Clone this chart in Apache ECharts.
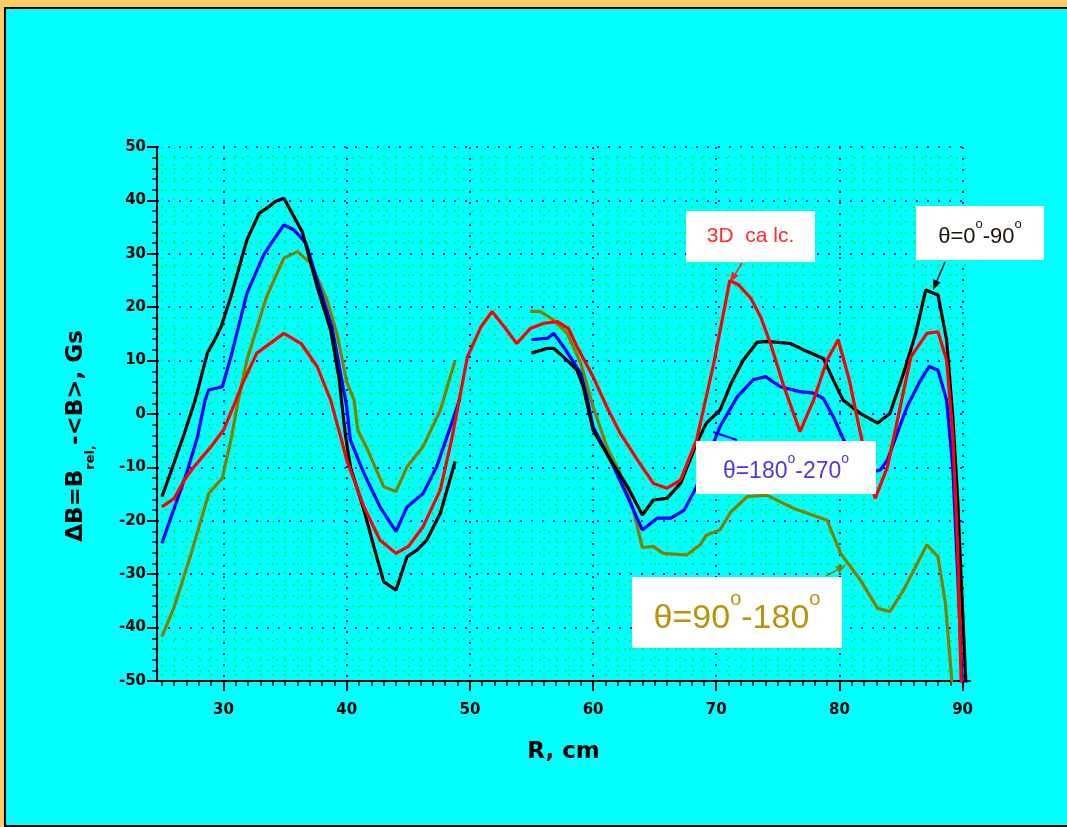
<!DOCTYPE html>
<html>
<head>
<meta charset="utf-8">
<script src="https://cdn.jsdelivr.net/npm/echarts@6/dist/echarts.min.js"></script>
<style>
html,body{margin:0;padding:0;background:#FFCC66;width:1067px;height:827px;overflow:hidden;}
#frame{position:absolute;left:4px;top:7px;width:1065px;height:816px;background:#00FFFF;border-left:2px solid #000;border-top:2px solid #000;border-bottom:2px solid #000;}
#chart{position:absolute;left:0;top:0;width:1067px;height:827px;}
</style>
</head>
<body>
<div id="frame"></div>
<div id="chart"></div>
<script>
// ---- data ----
const xLabelTicks = [30, 40, 50, 60, 70, 80, 90];
const xMinorTicks = [25,26,27,28,29,30,31,32,33,34,35,36,37,38,39,40,41,42,43,44,45,46,47,48,49,50,51,52,53,54,55,56,57,58,59,60,61,62,63,64,65,66,67,68,69,70,71,72,73,74,75,76,77,78,79,80,81,82,83,84,85,86,87,88,89,90];

const black1 = [[25,-15.5],[25.7,-11],[26.8,-3.8],[27.7,2.6],[28.7,11.5],[29.2,13.5],[29.8,16.3],[30.6,22],[31.9,32.6],[32.9,37.6],[33.5,38.5],[34.2,39.8],[34.9,40.4],[36.4,34.1],[37.6,23.8],[38.7,15.7],[39.4,6.4],[39.6,2],[39.9,-4],[40.3,-9.9],[41.4,-18],[42.2,-24.8],[43,-31.4],[44,-33],[44.9,-26.7],[45.7,-25.5],[46.5,-23.6],[47.6,-18.6],[48.8,-8.9]];
const black2 = [[55,11.4],[56.3,12.3],[56.8,12.3],[57.6,10.7],[58.7,8.2],[59.2,5.1],[60,-3],[61.4,-8.6],[62.8,-13.6],[64,-18.9],[64.9,-16.1],[66,-15.8],[67.1,-13],[68.4,-5.5],[69.2,-1.7],[70.3,0.7],[71.2,5.7],[72.2,10.1],[73.3,13.4],[74.1,13.6],[76,13.2],[77.1,12],[78.7,10.4],[79.5,6.4],[80.3,2.6],[81.7,0.1],[83.1,-1.7],[84.1,0.1],[85.2,7.6],[86.2,15.1],[87,23.2],[88,22.3],[88.7,13.9],[89.2,-0.5],[89.6,-16],[89.9,-32],[90.3,-52]];

const blue1 = [[25,-24.2],[27,-11.1],[27.9,-4.2],[28.5,2.6],[28.8,4.5],[29.9,5.1],[30.6,10.7],[31.9,22.6],[33.3,30],[34.9,35.4],[35.7,34.5],[36.7,32],[37.6,25],[38.8,16.3],[40,1.4],[40.3,-4.9],[41.4,-11.1],[42.7,-17.4],[44,-22],[44.9,-17.4],[46.2,-14.9],[47.3,-9.9],[48.7,-0.5],[49.2,3]];
const blue2 = [[55,13.9],[56.3,14.2],[56.8,15.1],[57.6,12.6],[59,7.6],[59.5,3.2],[60,-2.4],[61.4,-8.6],[62.8,-15.5],[64,-21.7],[65.2,-19.5],[66.3,-19.5],[67.4,-18],[68.4,-13.6],[69.5,-7],[70.3,-2.4],[71.7,3.2],[73,6.4],[74,7],[75.2,5.1],[76.8,4.2],[77.9,3.9],[78.7,2.9],[79.5,-0.5],[80.1,-3.6],[81,-8],[82.5,-11],[83.3,-10.5],[83.9,-8.6],[85.5,1.4],[86.6,6.4],[87.3,8.9],[88,8.2],[88.7,2.6],[89.2,-9.9],[89.6,-30],[90,-52]];

const red = [[25,-17.4],[26,-15.8],[26.8,-12.4],[27.6,-9.9],[29,-6.1],[30,-3],[31,2.5],[31.6,6],[32.7,11.4],[34.9,15.1],[36.3,13.2],[37.6,8.9],[38.7,2.6],[39.5,-4.2],[40,-8.6],[41.4,-17.4],[42.7,-23.6],[44,-26.1],[45,-24.8],[46.2,-21.1],[47.6,-14.2],[48.5,-5],[49.8,10.7],[50.9,16.3],[51.8,19.2],[52.9,16],[53.8,13.2],[54.9,16],[56,17],[57.1,17.3],[58,16],[58.7,12.6],[60,7],[61.1,1.4],[62.2,-3.6],[63.6,-8.6],[64.9,-13],[66,-13.9],[67.1,-12.4],[68.4,-4.9],[69.8,9.5],[71.1,25],[71.8,24.2],[72.8,21.7],[73.6,18.2],[74.4,13.2],[75.5,5.1],[76.8,-3.3],[77.9,2.6],[79,10.1],[79.9,13.9],[80.8,6.4],[81.7,-3.6],[82.9,-15.8],[83.9,-9.9],[85.8,10.7],[87.1,15.1],[88,15.4],[88.7,10.1],[89.2,-3.6],[89.6,-25],[89.9,-52]];

const olive1 = [[25,-41.7],[26,-36.1],[27.3,-26.7],[28.8,-14.9],[29.9,-12],[30.6,-4.9],[31.2,2.6],[31.9,10.1],[33.5,22],[34.9,29.2],[36,30.4],[37.1,28.2],[38.4,21.3],[39.2,15.1],[40,6],[40.6,2.6],[40.9,-3],[41.7,-6.7],[43,-13.6],[44,-14.5],[44.9,-9.9],[46.2,-6.1],[47.6,0.7],[48.8,10]];
const olive2 = [[54.9,19.2],[55.7,19.2],[56.8,17.6],[57.9,15.1],[59,9.5],[60,1.4],[61.1,-6.1],[62.2,-11.1],[63.2,-17.4],[64,-25],[64.9,-24.8],[65.7,-26.1],[67.6,-26.4],[68.7,-24.5],[69.2,-22.7],[70.3,-21.7],[71.2,-18.3],[72.5,-15.5],[74.1,-15.2],[76.3,-17.7],[79,-19.9],[80.1,-26.1],[81.7,-31.1],[83.1,-36.4],[84.1,-37],[85.2,-33],[87.1,-24.5],[88,-26.7],[88.6,-35.4],[89.2,-52]];

// ---- chart ----
const chart = echarts.init(document.getElementById('chart'));
const FONT = 'DejaVu Sans';
const gridPos = {left: 157, right: 97, top: 147, bottom: 146};

function lineSeries(data, color) {
  return {type: 'line', xAxisIndex: 0, yAxisIndex: 0, data: data, showSymbol: false, symbol: 'none',
    clip: true, lineStyle: {color: color, width: 3.2}, z: 5, animation: false};
}

function arrow(x1, y1, x2, y2, color) {
  const ang = Math.atan2(y2 - y1, x2 - x1);
  const L = 10, W = 4;
  const bx = x2 - L * Math.cos(ang), by = y2 - L * Math.sin(ang);
  const px = -Math.sin(ang) * W, py = Math.cos(ang) * W;
  return [
    {type: 'line', shape: {x1: x1, y1: y1, x2: bx, y2: by}, style: {stroke: color, lineWidth: 1.5}, z: 20},
    {type: 'polygon', shape: {points: [[x2, y2], [bx + px, by + py], [bx - px, by - py]]}, style: {fill: color}, z: 20}
  ];
}

function box(x, y, w, h, textRich, rich, color, size) {
  return [
    {type: 'rect', shape: {x: x, y: y, width: w, height: h}, style: {fill: '#ffffff'}, z: 20},
    {type: 'text', x: x + w / 2, y: y + h / 2, z: 21,
      style: {text: textRich, rich: rich, fill: color, font: size + 'px "Liberation Sans", Arial, sans-serif',
        align: 'center', verticalAlign: 'middle'}}
  ];
}

function supRich(size, color) {
  return {
    n: {fontSize: size, fontFamily: 'Liberation Sans', color: color, verticalAlign: 'bottom', lineHeight: size * 1.35},
    s: {fontSize: Math.round(size * 0.6), fontFamily: 'Liberation Sans', color: color, verticalAlign: 'top', lineHeight: size * 1.35}
  };
}

const graphics = [].concat(
  box(686, 211, 129, 51, '3D  ca lc.', null, '#FF2a2a', 21),
  arrow(742, 263, 730, 282, '#FF2020'),
  box(916, 206, 128, 54, '{n|θ=0}{s|o}{n|-90}{s|o}', supRich(22, '#1a1208'), '#1a1208', 22),
  arrow(945, 262, 933, 290, '#000000'),
  box(696, 441, 180, 53, '{n|θ=180}{s|o}{n|-270}{s|o}', supRich(23, '#4a3ae0'), '#4a3ae0', 23),
  [{type: 'line', shape: {x1: 713, y1: 432, x2: 737, y2: 440}, style: {stroke: '#0000FF', lineWidth: 2}, z: 19}],
  box(632, 577, 210, 71, '{n|θ=90}{s|o}{n|-180}{s|o}', supRich(34, '#b8940c'), '#b8940c', 34),
  arrow(826, 576, 846, 565, '#808000')
);

const option = {
  backgroundColor: 'transparent',
  animation: false,
  grid: [
    Object.assign({}, gridPos),
    Object.assign({}, gridPos)
  ],
  xAxis: [
    {type: 'value', gridIndex: 0, min: 24.6, max: 90.6, position: 'bottom',
      name: 'R, cm', nameLocation: 'middle', nameGap: 60,
      nameTextStyle: {fontFamily: FONT, fontWeight: 'bold', fontSize: 23, color: '#000'},
      axisLine: {show: true, onZero: false, lineStyle: {color: '#000', width: 2}},
      axisTick: {show: true, inside: false, customValues: xMinorTicks, length: 5, lineStyle: {color: '#000', width: 1.5}},
      axisLabel: {show: true, customValues: xLabelTicks, margin: 22, fontFamily: FONT, fontWeight: 'bold', fontSize: 15, color: '#000'},
      splitLine: {show: true, lineStyle: {color: '#00EE00', type: [1.5, 7], width: 1.5}}
    },
    {type: 'value', gridIndex: 1, min: 24.6, max: 90.6, position: 'bottom',
      axisLine: {show: false, onZero: false},
      axisTick: {show: true, inside: false, customValues: xLabelTicks, length: 10, lineStyle: {color: '#000', width: 2}},
      axisLabel: {show: false},
      splitLine: {show: true, lineStyle: {color: '#0000FF', type: [2, 9], width: 2}}
    }
  ],
  yAxis: [
    {type: 'value', gridIndex: 0, min: -50, max: 50, interval: 10,
      name: '{m|ΔB=B}{sub|rel,}{m|-<B>, Gs}', nameLocation: 'middle', nameGap: 60, nameRotate: 90,
      nameTextStyle: {padding: [0, 44, 0, 0], rich: {
        m: {fontFamily: FONT, fontWeight: 'bold', fontSize: 23, color: '#000', verticalAlign: 'top', lineHeight: 32},
        sub: {fontFamily: FONT, fontWeight: 'bold', fontSize: 13, color: '#000', verticalAlign: 'bottom', lineHeight: 32}
      }},
      axisLine: {show: true, onZero: false, lineStyle: {color: '#000', width: 2}},
      axisTick: {show: true, length: 10, lineStyle: {color: '#000', width: 2}},
      minorTick: {show: true, splitNumber: 5, length: 5, lineStyle: {color: '#000', width: 1.5}},
      axisLabel: {margin: 11, fontFamily: FONT, fontWeight: 'bold', fontSize: 15, color: '#000'},
      splitLine: {show: true, lineStyle: {color: '#0000FF', type: [2, 9], width: 2}},
      minorSplitLine: {show: true, lineStyle: {color: '#00EE00', type: [1.5, 7], width: 1.5}}
    },
    {type: 'value', gridIndex: 1, min: -50, max: 50, interval: 10, show: false}
  ],
  series: [
    lineSeries(olive1, '#808000'),
    lineSeries(olive2, '#808000'),
    lineSeries(blue1, '#0000FF'),
    lineSeries(blue2, '#0000FF'),
    lineSeries(black1, '#000000'),
    lineSeries(black2, '#000000'),
    lineSeries(red, '#FF0000')
  ],
  graphic: graphics
};
chart.setOption(option);
</script>
</body>
</html>
